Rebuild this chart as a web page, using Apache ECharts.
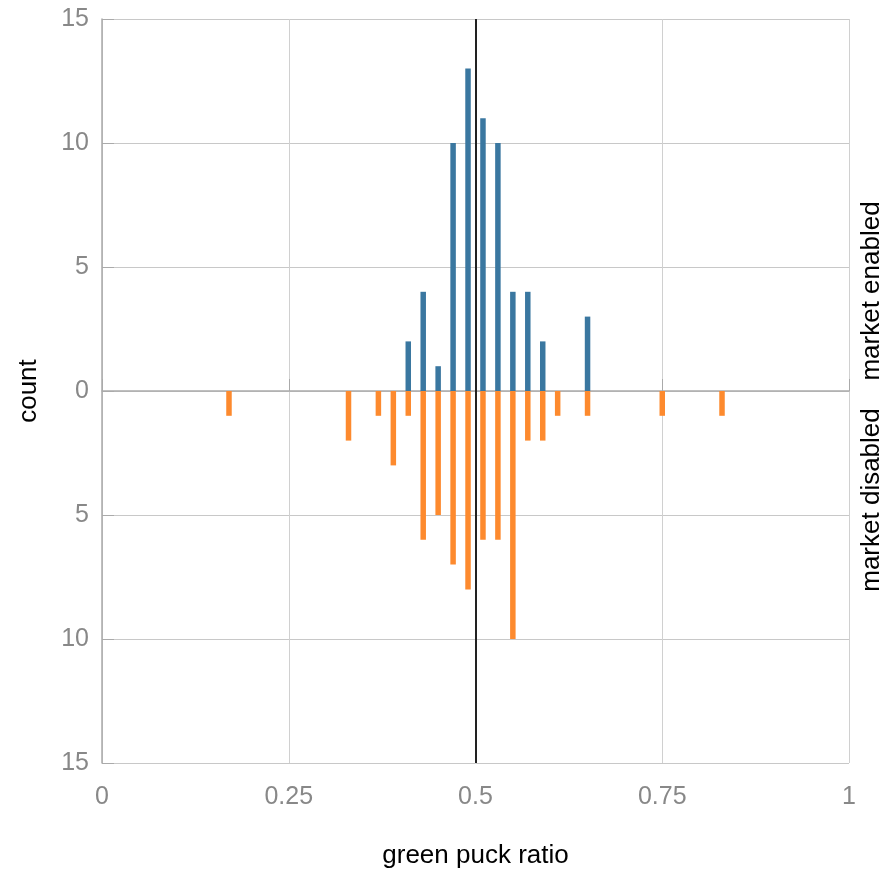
<!DOCTYPE html>
<html>
<head>
<meta charset="utf-8">
<script src="https://cdn.jsdelivr.net/npm/echarts@6/dist/echarts.min.js"></script>
<style>
html,body{margin:0;padding:0;background:#fff;}
#chart{width:879px;height:874px;}
</style>
</head>
<body>
<div id="chart"></div>
<script>
// green puck ratio bins
var enabledX = [0.41, 0.43, 0.45, 0.47, 0.49, 0.51, 0.53, 0.55, 0.57, 0.59, 0.65];
var enabledCount = [2, 4, 1, 10, 13, 11, 10, 4, 4, 2, 3];
var disabledX = [0.17, 0.33, 0.37, 0.39, 0.41, 0.43, 0.45, 0.47, 0.49, 0.51, 0.53, 0.55, 0.57, 0.59, 0.61, 0.65, 0.75, 0.83];
var disabledCount = [1, 2, 1, 3, 1, 6, 5, 7, 8, 6, 6, 10, 2, 2, 1, 1, 1, 1];
var xTicks = [0, 0.25, 0.5, 0.75, 1];
var yTicks = [-15, -10, -5, 0, 5, 10, 15];
var referenceX = 0.5;

var chart = echarts.init(document.getElementById('chart'));
var font = 'Liberation Sans, Helvetica, Arial, sans-serif';
chart.setOption({
  animation: false,
  grid: {left: 102, right: 30, top: 19, bottom: 109},
  xAxis: {
    type: 'value', min: xTicks[0], max: xTicks[xTicks.length - 1], interval: 0.25,
    name: 'green puck ratio', nameLocation: 'middle', nameGap: 80,
    nameTextStyle: {color: '#000', fontSize: 26, fontFamily: font},
    axisLine: {show: true, lineStyle: {color: '#aaa', width: 1.5}},
    axisTick: {show: true, inside: true, length: 12, lineStyle: {color: '#aaa'}},
    axisLabel: {color: '#888', fontSize: 25, fontFamily: font, margin: 22,
      formatter: function (v) { return String(+v.toFixed(2)); }},
    splitLine: {show: true, lineStyle: {color: '#d0d0d0', width: 1}}
  },
  yAxis: {
    type: 'value', min: yTicks[0], max: yTicks[yTicks.length - 1], interval: 5,
    name: 'count', nameLocation: 'middle', nameGap: 60,
    nameTextStyle: {color: '#000', fontSize: 26, fontFamily: font},
    axisLine: {show: true, onZero: false, lineStyle: {color: '#aaa', width: 1.5}},
    axisTick: {show: true, inside: true, length: 12, lineStyle: {color: '#aaa'}},
    axisLabel: {color: '#888', fontSize: 25, fontFamily: font, margin: 13,
      formatter: function (v) { return String(Math.abs(v)); }},
    splitLine: {show: true, lineStyle: {color: '#c8c8c8', width: 1}}
  },
  graphic: [
    {type: 'text', x: 872, y: 291, rotation: Math.PI / 2,
      style: {text: 'market enabled', fill: '#000', fontSize: 26, fontFamily: font, align: 'center', verticalAlign: 'middle'}},
    {type: 'text', x: 872, y: 500, rotation: Math.PI / 2,
      style: {text: 'market disabled', fill: '#000', fontSize: 26, fontFamily: font, align: 'center', verticalAlign: 'middle'}}
  ],
  series: [
    {
      name: 'market enabled', type: 'bar', barWidth: 5.5, barGap: '-100%',
      itemStyle: {color: '#3a77a0'},
      data: enabledX.map(function (x, i) { return [x, enabledCount[i]]; }),
      markLine: {
        silent: true, symbol: ['none', 'none'], label: {show: false},
        lineStyle: {color: '#222', width: 2, type: 'solid'},
        data: [{xAxis: referenceX}]
      }
    },
    {
      name: 'market disabled', type: 'bar', barWidth: 5.5, barGap: '-100%',
      itemStyle: {color: '#fd8a2e'},
      data: disabledX.map(function (x, i) { return [x, -disabledCount[i]]; })
    }
  ]
});
</script>
</body>
</html>
